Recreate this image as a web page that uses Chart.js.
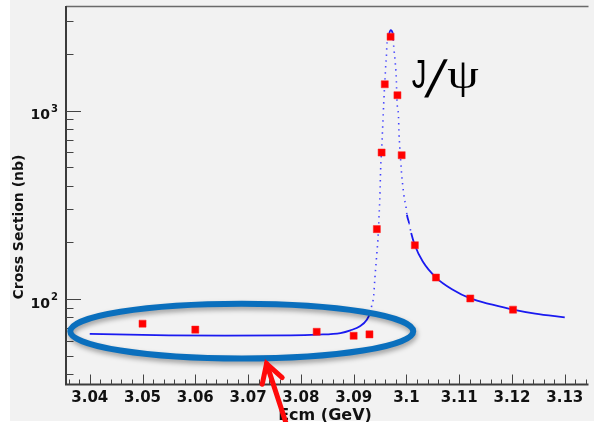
<!DOCTYPE html>
<html>
<head>
<meta charset="utf-8">
<script src="https://cdn.jsdelivr.net/npm/chart.js@4.4.0/dist/chart.umd.min.js"></script>
<style>
  html, body { margin: 0; padding: 0; background: #fff; }
  canvas { display: block; }
</style>
</head>
<body>
<canvas id="scan" width="594" height="422"></canvas>
<script>
/*
** Measured cross sections (Ecm in GeV, sigma in nb)
*/
var energy = [3.050, 3.060, 3.083, 3.090, 3.093, 3.0944, 3.0953, 3.0959, 3.0970, 3.0983, 3.0991, 3.1016, 3.1056, 3.1121, 3.1202];
var xsec   = [74, 68.8, 67, 63.8, 64.9, 235, 599, 1380, 2466, 1207, 580, 193, 130, 100.7, 87.8];

/*
** Fitted line shape
*/
var fitE  = [3.0400, 3.0550, 3.0656, 3.0781, 3.0831, 3.0875, 3.0894, 3.0912, 3.0925, 3.0931,
             3.0934, 3.0938, 3.0940, 3.0944, 3.0946, 3.0948, 3.0950, 3.0951, 3.0954, 3.0956,
             3.0957, 3.0960, 3.0961, 3.0962, 3.0963, 3.0965, 3.0970, 3.0974, 3.0976, 3.0979,
             3.0981, 3.0982, 3.0985, 3.0986, 3.0987, 3.0991, 3.0994, 3.0996, 3.0999, 3.1001,
             3.1005, 3.1009, 3.1016, 3.1031, 3.1056, 3.1088, 3.1121, 3.1163, 3.1202, 3.1244, 3.1300];
var fitXs = [65.3, 64.1, 63.9, 64.1, 64.7, 66.0, 68.2, 71.7, 77.6, 84.4,
             91.4, 104, 126, 175, 206, 269, 369, 473, 707, 948,
             1093, 1577, 1760, 1931, 2227, 2388, 2674, 2569, 2181, 1781,
             1436, 1138, 928, 749, 665, 460, 380, 343, 310, 280,
             253, 224, 193, 158, 130, 112, 100.7, 93.3, 87.8, 83.6, 79.9];

/*
** Axis ticks
*/
var xTickLabels = ['3.04', '3.05', '3.06', '3.07', '3.08', '3.09', '3.1', '3.11', '3.12', '3.13'];
var yTickValues = [100, 1000];
var yTickLabels = ['10', '10'];
var yTickPowers = ['2', '3'];

var X_MIN = 3.0355, X_MAX = 3.1345;
var Y_MIN = 35.4, Y_MAX = 3590;

/*
** Grey pad behind the plot
*/
var padPlugin = {
    id: 'pad',
    beforeDraw: function (chart) {
        var ctx = chart.ctx;
        ctx.save();
        ctx.fillStyle = '#ffffff';
        ctx.fillRect(0, 0, chart.width, chart.height);
        ctx.fillStyle = '#f2f2f2';
        ctx.fillRect(10, 0, chart.width - 10, chart.height - 1);
        ctx.restore();
    }
};

/*
** ROOT style frame: ticks pointing inwards, bold labels
*/
var framePlugin = {
    id: 'frame',
    afterDatasetsDraw: function (chart) {
        var ctx = chart.ctx, ca = chart.chartArea;
        var xs = chart.scales.x, ys = chart.scales.y;
        var bottom = ca.bottom + 0.5;
        ctx.save();

        // frame lines
        ctx.strokeStyle = '#6a6a6a';
        ctx.lineWidth = 1.5;
        ctx.beginPath();
        ctx.moveTo(ca.left, ca.top + 0.5);
        ctx.lineTo(ca.right, ca.top + 0.5);
        ctx.stroke();
        ctx.strokeStyle = '#3c3c3c';
        ctx.lineWidth = 2;
        ctx.beginPath();
        ctx.moveTo(ca.left, ca.top);
        ctx.lineTo(ca.left, bottom);
        ctx.lineTo(ca.right, bottom);
        ctx.stroke();

        // x ticks
        ctx.lineWidth = 1;
        ctx.strokeStyle = '#444';
        ctx.beginPath();
        for (var i = 0; i <= 50; i++) {
            var v = 3.036 + i * 0.002;
            var px = Math.round(xs.getPixelForValue(v)) + 0.5;
            if (px <= ca.left + 1 || px > ca.right) continue;
            var major = Math.abs(v * 100 - Math.round(v * 100)) < 1e-6;
            ctx.moveTo(px, bottom);
            ctx.lineTo(px, bottom - (major ? 10 : 5));
        }
        // y ticks
        for (var d = 1; d <= 3; d++) {
            for (var m = 1; m <= 9; m++) {
                var val = m * Math.pow(10, d);
                if (val < Y_MIN || val > Y_MAX) continue;
                var py = Math.round(ys.getPixelForValue(val)) + 0.5;
                ctx.moveTo(ca.left, py);
                ctx.lineTo(ca.left + (m === 1 ? 15 : 7.5), py);
            }
        }
        ctx.stroke();

        // x tick labels
        ctx.fillStyle = '#111';
        ctx.font = 'bold 15px "DejaVu Sans"';
        ctx.textAlign = 'center';
        ctx.textBaseline = 'alphabetic';
        xTickLabels.forEach(function (lab) {
            ctx.fillText(lab, xs.getPixelForValue(parseFloat(lab)), 402);
        });

        // y tick labels, 10 with a raised power
        yTickValues.forEach(function (val, k) {
            var py = ys.getPixelForValue(val);
            ctx.font = 'bold 14px "DejaVu Sans"';
            ctx.textAlign = 'right';
            ctx.fillText(yTickLabels[k], 50, py + 8.5);
            ctx.font = 'bold 10px "DejaVu Sans"';
            ctx.textAlign = 'left';
            ctx.fillText(yTickPowers[k], 51, py + 1);
        });

        // axis titles
        ctx.font = 'bold 16px "DejaVu Sans"';
        ctx.textAlign = 'center';
        ctx.fillText('Ecm (GeV)', 325, 420);
        ctx.save();
        ctx.translate(23, 227);
        ctx.rotate(-Math.PI / 2);
        ctx.font = 'bold 14px "DejaVu Sans"';
        ctx.fillText('Cross Section (nb)', 0, 0);
        ctx.restore();

        ctx.restore();
    }
};

// text squeezed sideways and slanted (shear)
function drawScaled(ctx, text, font, x, y, sx, shear) {
    ctx.save();
    ctx.font = font;
    ctx.transform(sx, 0, -(shear || 0), 1, x, y);
    ctx.fillText(text, 0, 0);
    ctx.restore();
}

/*
** Slide annotations: J/psi label, ellipse and arrow
*/
var notesPlugin = {
    id: 'notes',
    afterDraw: function (chart) {
        var ctx = chart.ctx;
        var xs = chart.scales.x, ys = chart.scales.y;
        ctx.save();

        // J/psi
        var lx = xs.getPixelForValue(3.1011), ly = ys.getPixelForValue(1319);
        ctx.fillStyle = '#000';
        ctx.textAlign = 'left';
        drawScaled(ctx, 'J', '41px "Liberation Sans"', lx - 0.5, ly, 0.72, 0);
        drawScaled(ctx, '/', '52px "Liberation Sans"', lx + 12, ly + 9, 1.0, 0.24);
        drawScaled(ctx, '\u03C8', '42px "Liberation Serif"', lx + 35, ly, 1.2, 0);

        // ellipse round the flat region
        var cx = xs.getPixelForValue(3.0688), cy = ys.getPixelForValue(67.5);
        ctx.shadowColor = 'rgba(0,0,0,0.35)';
        ctx.shadowBlur = 5;
        ctx.shadowOffsetX = 1;
        ctx.shadowOffsetY = 3;
        ctx.strokeStyle = '#0a6fbd';
        ctx.lineWidth = 6;
        ctx.beginPath();
        ctx.ellipse(cx, cy, 171.5, 27.4, 0, 0, Math.PI * 2);
        ctx.stroke();
        ctx.shadowColor = 'transparent';

        // red arrow
        var tx = xs.getPixelForValue(3.0735), ty = ys.getPixelForValue(45.4);
        var ang = Math.atan2(58, 19), wing = 21, spread = Math.PI / 6;
        ctx.strokeStyle = '#ff0a0a';
        ctx.lineWidth = 5;
        ctx.lineCap = 'round';
        ctx.lineJoin = 'miter';
        ctx.beginPath();
        ctx.moveTo(tx + 19 * 1.2, ty + 58 * 1.2);
        ctx.lineTo(tx, ty);
        ctx.stroke();
        ctx.beginPath();
        ctx.moveTo(tx + wing * Math.cos(ang + spread), ty + wing * Math.sin(ang + spread));
        ctx.lineTo(tx, ty);
        ctx.lineTo(tx + wing * Math.cos(ang - spread), ty + wing * Math.sin(ang - spread));
        ctx.stroke();

        ctx.restore();
    }
};

function steep(ctx) {
    var dx = Math.abs(ctx.p1.x - ctx.p0.x), dy = Math.abs(ctx.p1.y - ctx.p0.y);
    return dy > 4 * dx;
}

var fitPoints = fitE.map(function (e, i) { return { x: e, y: fitXs[i] }; });
var dataPoints = energy.map(function (e, i) { return { x: e, y: xsec[i] }; });

var chart = new Chart(document.getElementById('scan'), {
    type: 'line',
    data: {
        datasets: [
            {
                label: 'data',
                data: dataPoints,
                showLine: false,
                pointStyle: 'rect',
                pointRadius: 5,
                pointBackgroundColor: '#ff0000',
                pointBorderColor: '#ff2020',
                pointBorderWidth: 0.5,
                order: 0
            },
            {
                label: 'fit',
                data: fitPoints,
                borderColor: '#1a1af0',
                borderWidth: 1.8,
                pointRadius: 0,
                cubicInterpolationMode: 'monotone',
                fill: false,
                order: 1,
                segment: {
                    borderDash: function (ctx) { return steep(ctx) ? [1.4, 4.6] : undefined; },
                    borderColor: function (ctx) { return steep(ctx) ? '#4040ff' : undefined; },
                    borderWidth: function (ctx) { return steep(ctx) ? 1.6 : undefined; }
                }
            }
        ]
    },
    options: {
        responsive: false,
        animation: false,
        events: [],
        layout: { padding: { left: 66, top: 6, right: 0, bottom: 38 } },
        plugins: {
            legend: { display: false },
            tooltip: { enabled: false }
        },
        scales: {
            x: { type: 'linear', min: X_MIN, max: X_MAX, display: false },
            y: { type: 'logarithmic', min: Y_MIN, max: Y_MAX, display: false }
        }
    },
    plugins: [padPlugin, framePlugin, notesPlugin]
});
</script>
</body>
</html>
